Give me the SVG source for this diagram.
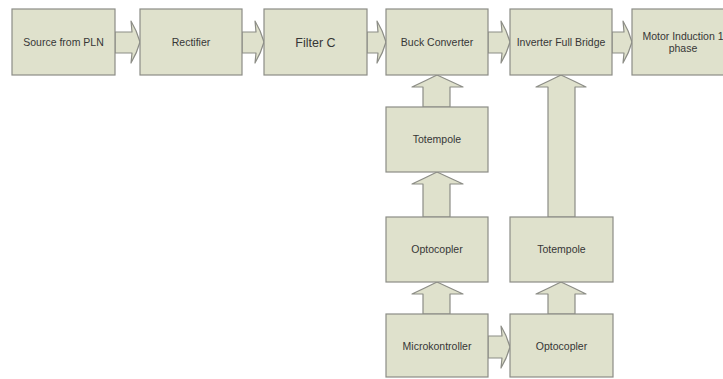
<svg xmlns="http://www.w3.org/2000/svg" width="723" height="379" viewBox="0 0 723 379">
<style>
.box{fill:#dfe1cc;stroke:#8c8d86;stroke-width:1.2}
.arr{fill:#dfe1cc;stroke:#8c8d86;stroke-width:1.2;stroke-linejoin:round}
.t{font-family:"Liberation Sans",Arial,sans-serif;font-size:10.5px;fill:#363636;text-anchor:middle}
.big{font-size:12.5px}
</style>
<rect width="723" height="379" fill="#ffffff"/>
<g id="connectors">
<path class="arr" d="M115,32 H132 L131,21 Q137,31 140,42 Q137,53 131,63 L132,53 H115 Z"/>
<path class="arr" d="M242,32 H256 L255,21 Q261,31 264,42 Q261,53 255,63 L256,53 H242 Z"/>
<path class="arr" d="M367,32 H378 L377,21 Q383,31 386,42 Q383,53 377,63 L378,53 H367 Z"/>
<path class="arr" d="M488,32 H502 L501,21 Q507,31 510,42 Q507,53 501,63 L502,53 H488 Z"/>
<path class="arr" d="M612,32 H624 L623,21 Q629,31 632,42 Q629,53 623,63 L624,53 H612 Z"/>
<path class="arr" d="M488,336 H502 L501,326 Q507,336 510,347 Q507,358 501,368 L502,358 H488 Z"/>
<path class="arr" d="M423,107 V87 H412 Q425,81 437,75 Q450,81 463,87 H450 V107 Z"/>
<path class="arr" d="M423,217 V184 H412 Q425,178 437,172 Q450,178 463,184 H450 V217 Z"/>
<path class="arr" d="M423,314 V294 H412 Q425,288 437,282 Q450,288 463,294 H450 V314 Z"/>
<path class="arr" d="M548,217 V87 H536 Q549,81 561,75 Q574,81 586,87 H575 V217 Z"/>
<path class="arr" d="M548,314 V294 H536 Q549,288 561,282 Q574,288 586,294 H575 V314 Z"/>
</g>
<g id="source"><rect class="box" x="12" y="9" width="103" height="66"/><text class="t" x="63.5" y="46">Source from PLN</text></g>
<g id="rectifier"><rect class="box" x="140" y="9" width="102" height="66"/><text class="t" x="191" y="46">Rectifier</text></g>
<g id="filter"><rect class="box" x="264" y="9" width="103" height="66"/><text class="t big" x="315.5" y="46.5">Filter C</text></g>
<g id="buck"><rect class="box" x="386" y="9" width="102" height="66"/><text class="t" x="437" y="46">Buck Converter</text></g>
<g id="inverter"><rect class="box" x="510" y="9" width="102" height="66"/><text class="t" x="561" y="46">Inverter Full Bridge</text></g>
<g id="motor"><rect class="box" x="632" y="9" width="102" height="66"/><text class="t" x="683" y="40">Motor Induction 1</text><text class="t" x="683" y="51.5">phase</text></g>
<g id="totempole1"><rect class="box" x="386" y="107" width="102" height="65"/><text class="t" x="437" y="143">Totempole</text></g>
<g id="optocopler1"><rect class="box" x="386" y="217" width="102" height="65"/><text class="t" x="437" y="253">Optocopler</text></g>
<g id="microkontroller"><rect class="box" x="386" y="314" width="102" height="63"/><text class="t" x="437" y="350">Microkontroller</text></g>
<g id="totempole2"><rect class="box" x="510" y="217" width="103" height="65"/><text class="t" x="561.5" y="253">Totempole</text></g>
<g id="optocopler2"><rect class="box" x="510" y="314" width="103" height="63"/><text class="t" x="561.5" y="350">Optocopler</text></g>
</svg>
